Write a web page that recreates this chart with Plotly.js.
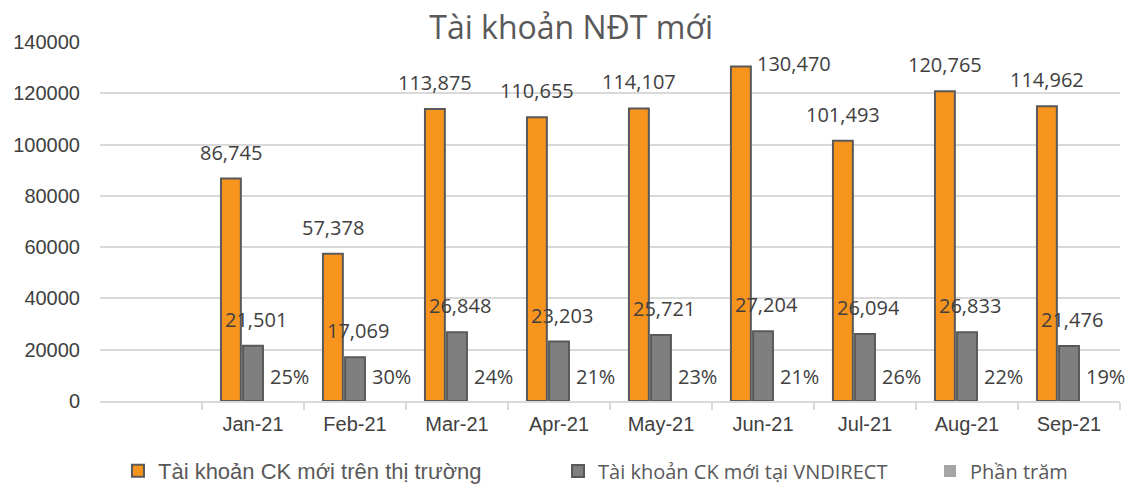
<!DOCTYPE html>
<html>
<head>
<meta charset="utf-8">
<script src="https://cdn.plot.ly/plotly-3.0.1.min.js"></script>
<style>html,body{margin:0;padding:0;background:#fff;}#chart{width:1131px;height:485px;}</style>
</head>
<body>
<div id="chart"></div>
<script>
const months = ['Jan-21','Feb-21','Mar-21','Apr-21','May-21','Jun-21','Jul-21','Aug-21','Sep-21'];
const marketAccounts = [86745, 57378, 113875, 110655, 114107, 130470, 101493, 120765, 114962];
const vndirectAccounts = [21501, 17069, 26848, 23203, 25721, 27204, 26094, 26833, 21476];
const percentShare = [0.25, 0.30, 0.24, 0.21, 0.23, 0.21, 0.26, 0.22, 0.19];
const seriesNames = ['Tài khoản CK mới trên thị trường', 'Tài khoản CK mới tại VNDIRECT', 'Phần trăm'];

const fmt = v => v.toLocaleString('en-US');
const pct = v => Math.round(v * 100) + '%';

const labelFont = {family: 'Open Sans, sans-serif', size: 20, color: '#404040'};
const tickFont = {family: 'Liberation Sans, Arial, sans-serif', size: 20, color: '#404040'};
const yMax = 140000;

const traces = [
  {type: 'bar', name: seriesNames[0], x: months, y: marketAccounts, legend: 'legend',
   marker: {color: '#F7941D', line: {color: '#595959', width: 2}}},
  {type: 'bar', name: seriesNames[1], x: months, y: vndirectAccounts, legend: 'legend2',
   marker: {color: '#7F7F7F', line: {color: '#595959', width: 2}}},
  {type: 'bar', name: seriesNames[2], x: months, y: percentShare, legend: 'legend3',
   marker: {color: '#A5A5A5', line: {width: 0}}}
];

const annotations = [];
months.forEach((m, i) => {
  const v = marketAccounts[i];
  if (v > yMax * 0.89) {
    // not enough room above the bar: label sits beside it (as in the reference)
    annotations.push({x: m, y: v, text: fmt(v), showarrow: false,
      xanchor: 'left', yanchor: 'middle', xshift: -8, yshift: 3, font: labelFont});
  } else {
    annotations.push({x: m, y: v, text: fmt(v), showarrow: false,
      xanchor: 'center', yanchor: 'bottom', xshift: -22, yshift: 11, font: labelFont});
  }
  annotations.push({x: m, y: vndirectAccounts[i], text: fmt(vndirectAccounts[i]), showarrow: false,
    xanchor: 'center', yanchor: 'bottom', xshift: 3, yshift: 11, font: labelFont});
  annotations.push({x: m, y: percentShare[i], text: pct(percentShare[i]), showarrow: false,
    xanchor: 'center', yanchor: 'middle', xshift: 36, yshift: 25, font: labelFont});
});

const legendBase = {orientation: 'h', xref: 'container', yref: 'container', xanchor: 'left',
  y: 0.029, yanchor: 'middle', bgcolor: 'rgba(0,0,0,0)'};

const layout = {
  width: 1131, height: 485,
  margin: {l: 100, r: 11, t: 42, b: 84},
  paper_bgcolor: '#fff', plot_bgcolor: '#fff',
  title: {text: 'Tài khoản NĐT mới', x: 0.505, xanchor: 'center', xref: 'container',
          y: 0.943, yanchor: 'middle', yref: 'container',
          font: {family: 'Open Sans, sans-serif', size: 32, color: '#595959'}},
  barmode: 'group', bargap: 0.35, bargroupgap: 0.1,
  showlegend: true,
  legend: Object.assign({}, legendBase, {x: 0.1043,
    font: {family: 'Liberation Sans, Arial, sans-serif', size: 22, color: '#595959'}}),
  legend2: Object.assign({}, legendBase, {x: 0.4934,
    font: {family: 'Open Sans, sans-serif', size: 20, color: '#595959'}}),
  legend3: Object.assign({}, legendBase, {x: 0.8223,
    font: {family: 'Open Sans, sans-serif', size: 20, color: '#595959'}}),
  xaxis: {type: 'category', range: [-1.5, 8.5], showgrid: false,
          showline: true, linecolor: '#d9d9d9', linewidth: 2,
          ticks: 'outside', tickson: 'boundaries', ticklen: 7, tickcolor: '#d9d9d9', tickwidth: 2,
          ticklabelstandoff: 4, tickfont: tickFont, fixedrange: true},
  yaxis: {range: [0, yMax], dtick: 20000, tickformat: 'd',
          showgrid: true, gridcolor: '#d9d9d9', gridwidth: 2, zeroline: false,
          ticklabelstandoff: 19, tickfont: tickFont, fixedrange: true},
  annotations: annotations
};

Plotly.newPlot('chart', traces, layout, {displayModeBar: false, staticPlot: true});
</script>
</body>
</html>
